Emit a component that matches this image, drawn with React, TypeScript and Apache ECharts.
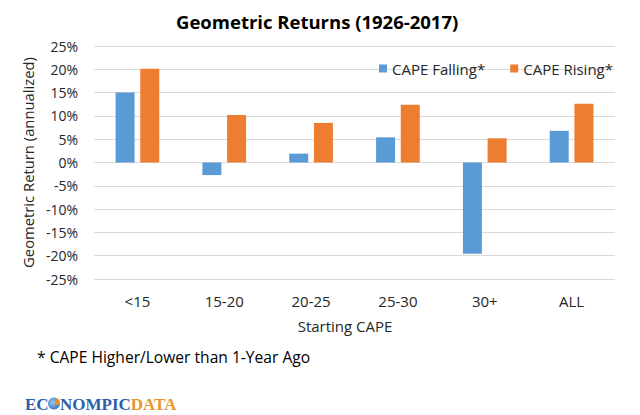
import React, { useEffect, useRef } from "react";
import * as echarts from "echarts";

const categories = ["<15", "15-20", "20-25", "25-30", "30+", "ALL"];
const capeFalling = [15.0, -2.7, 1.9, 5.4, -19.6, 6.8];
const capeRising = [20.1, 10.2, 8.5, 12.4, 5.2, 12.6];
const seriesNames = ["CAPE Falling*", "CAPE Rising*"];

const FONT = "'Open Sans', sans-serif";

export default function App() {
  const ref = useRef<HTMLDivElement>(null);
  useEffect(() => {
    document.body.style.margin = "0";
    const chart = echarts.init(ref.current!, null, { renderer: "svg" });
    chart.setOption({
      animation: false,
      backgroundColor: "#ffffff",
      textStyle: { fontFamily: FONT },
      title: {
        text: "Geometric Returns (1926-2017)",
        left: 171,
        top: 7,
        textStyle: { fontFamily: FONT, fontWeight: "bold", fontSize: 18.5, color: "#000000" },
      },
      legend: {
        data: seriesNames,
        left: 374,
        top: 56,
        itemWidth: 8,
        itemHeight: 8,
        itemGap: 25,
        icon: "rect",
        textStyle: { fontFamily: FONT, fontSize: 15, color: "#262626" },
      },
      grid: { left: 94, right: 25, top: 46, bottom: 136, containLabel: false },
      xAxis: {
        type: "category",
        data: categories,
        axisLine: { show: false },
        axisTick: { show: false },
        axisLabel: { margin: 14, fontFamily: FONT, fontSize: 15, color: "#262626" },
      },
      yAxis: {
        type: "value",
        min: -25,
        max: 25,
        interval: 5,
        axisLine: { show: false },
        axisTick: { show: false },
        splitLine: { lineStyle: { color: "#d9d9d9", width: 1 } },
        axisLabel: { margin: 16, formatter: "{value}%", fontFamily: FONT, fontSize: 14, color: "#262626" },
        name: "Geometric Return (annualized)",
        nameLocation: "middle",
        nameGap: 58,
        nameTextStyle: { fontFamily: FONT, fontSize: 14.8, color: "#262626" },
      },
      series: [
        {
          name: seriesNames[0],
          type: "bar",
          data: capeFalling,
          barWidth: 19,
          barGap: "30%",
          itemStyle: { color: "#5b9bd5" },
        },
        {
          name: seriesNames[1],
          type: "bar",
          data: capeRising,
          barWidth: 19,
          barGap: "30%",
          itemStyle: { color: "#ed7d31" },
        },
      ],
      graphic: [
        {
          type: "text",
          x: 345,
          y: 326,
          style: {
            text: "Starting CAPE",
            font: `15px ${FONT}`,
            fill: "#262626",
            align: "center",
            verticalAlign: "middle",
          },
        },
        {
          type: "text",
          x: 37,
          y: 357,
          style: {
            text: "* CAPE Higher/Lower than 1-Year Ago",
            font: `15.6px ${FONT}`,
            fill: "#000000",
            verticalAlign: "middle",
          },
        },
        {
          type: "text",
          x: 25,
          y: 404,
          style: {
            text: "EC",
            font: "bold 17px 'Liberation Serif', serif",
            fill: "#2b5fa9",
            verticalAlign: "middle",
          },
        },
        {
          type: "circle",
          shape: { cx: 54, cy: 403.5, r: 6 },
          style: {
            fill: new echarts.graphic.RadialGradient(0.4, 0.4, 0.7, [
              { offset: 0, color: "#9cc8f0" },
              { offset: 1, color: "#2e6db8" },
            ]),
          },
        },
        {
          type: "sector",
          shape: { cx: 54, cy: 403.5, r: 6, r0: 2, startAngle: -1.2, endAngle: 0.4 },
          style: { fill: "#e8902a" },
        },
        {
          type: "text",
          x: 60,
          y: 404,
          style: {
            text: "{b|NOMPIC}{o|DATA}",
            verticalAlign: "middle",
            rich: {
              b: { font: "bold 17px 'Liberation Serif', serif", fill: "#2b5fa9" },
              o: { font: "bold 17px 'Liberation Serif', serif", fill: "#e8962e" },
            },
          },
        },
      ],
    });
    return () => chart.dispose();
  }, []);
  return <div ref={ref} style={{ width: 640, height: 415, position: "absolute", left: 0, top: 0 }} />;
}
